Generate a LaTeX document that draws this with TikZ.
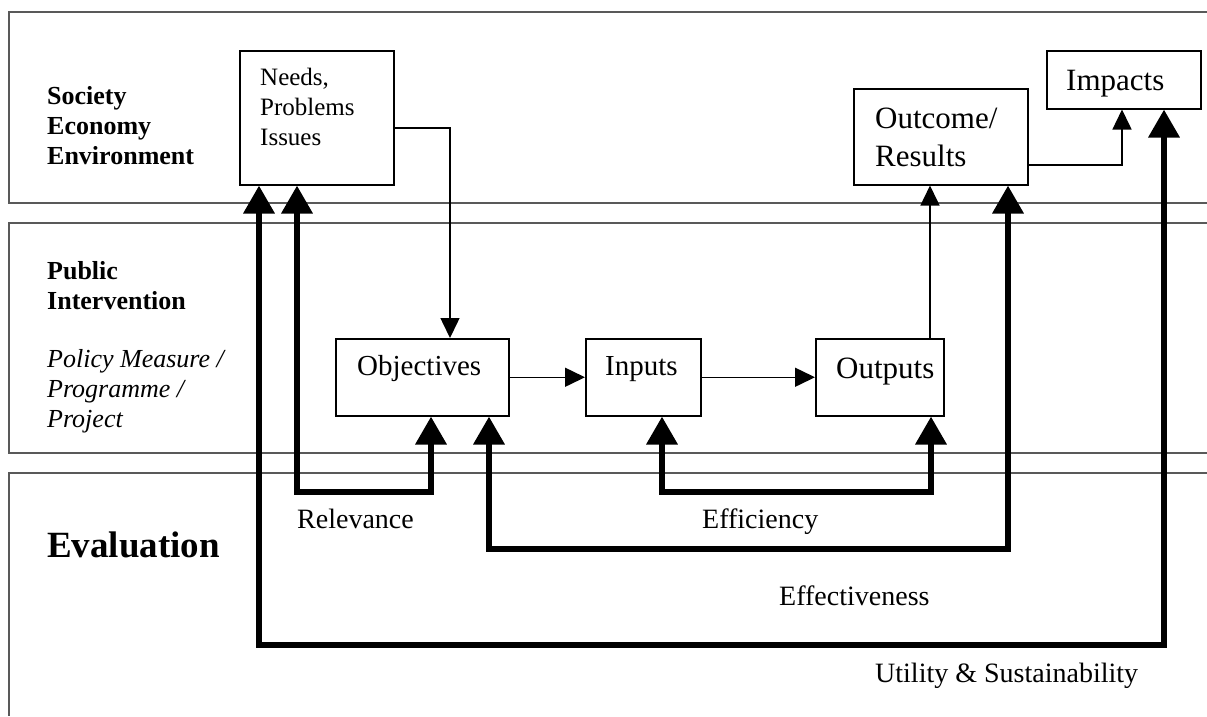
\documentclass[tikz,border=0pt]{standalone}
\usepackage{fontspec}
\setmainfont{Liberation Serif}
\usetikzlibrary{arrows.meta}
\tikzset{
  band/.style={draw=black!65, line width=1.3pt},
  box/.style={draw, line width=1.5pt, inner sep=0pt, anchor=north west},
  txt/.style={inner sep=0pt, anchor=base west, align=left},
  sidebold/.style={txt, font=\fontsize{26pt}{30pt}\selectfont\bfseries},
  sideital/.style={txt, font=\fontsize{26pt}{30pt}\selectfont\itshape},
  needsfont/.style={txt, font=\fontsize{25pt}{30pt}\selectfont},
  midfont/.style={txt, font=\fontsize{29pt}{34pt}\selectfont},
  bigfont/.style={txt, font=\fontsize{31pt}{38pt}\selectfont},
  evalfont/.style={txt, font=\fontsize{28pt}{32pt}\selectfont},
  thinarrow/.style={line width=1.5pt, -{Triangle[length=20pt,width=19pt]}},
  thickarrow/.style={line width=6.5pt, line join=miter,
    {Triangle[length=28pt,width=30pt]}-{Triangle[length=28pt,width=30pt]}}
}
\begin{document}
\begin{tikzpicture}[x=1pt,y=-1pt]
\useasboundingbox (0,0) rectangle (1207,716);
% bands
\draw[band] (1207,12) -- (9,12) -- (9,203) -- (1207,203);
\draw[band] (1207,223) -- (9,223) -- (9,453) -- (1207,453);
\draw[band] (1207,473) -- (9,473) -- (9,716);
% side labels (anchor = baseline of last line)
\node[sidebold] (society) at (47,164) {Society\\Economy\\Environment};
\node[sidebold] (public) at (47,309) {Public\\Intervention};
\node[sideital] (policy) at (47,427) {Policy Measure /\\Programme /\\Project};
\node[txt, font=\fontsize{37pt}{42pt}\selectfont\bfseries] (evaluation) at (47,557) {Evaluation};
% boxes
\node[box, minimum width=154pt, minimum height=134pt] (needs) at (239,50) {};
\node[box, minimum width=174pt, minimum height=96pt] (outcome) at (853,88) {};
\node[box, minimum width=154pt, minimum height=58pt] (impacts) at (1046,50) {};
\node[box, minimum width=173pt, minimum height=77pt] (objectives) at (335,338) {};
\node[box, minimum width=115pt, minimum height=77pt] (inputs) at (585,338) {};
\node[box, minimum width=128pt, minimum height=77pt] (outputs) at (815,338) {};
% box texts
\node[needsfont] (needstxt) at (260,145) {Needs,\\Problems\\Issues};
\node[bigfont] (outcometxt) at (875,166) {Outcome/\\Results};
\node[bigfont] (impactstxt) at (1066,90) {Impacts};
\node[midfont] (objectivestxt) at (357,375) {Objectives};
\node[midfont] (inputstxt) at (605,375) {Inputs};
\node[bigfont] (outputstxt) at (836,378) {Outputs};
% evaluation labels
\node[evalfont] (relevance) at (297,528) {Relevance};
\node[evalfont] (efficiency) at (702,528) {Efficiency};
\node[evalfont] (effectiveness) at (779,605) {Effectiveness};
\node[evalfont] (utility) at (875,682) {Utility \& Sustainability};
% thin connectors
\coordinate (cNO) at (450,128);
\draw[thinarrow] (needs.east |- cNO) -- (cNO) -- (cNO |- objectives.north);
\draw[thinarrow] (objectives.east) -- (inputs.west);
\draw[thinarrow] (inputs.east) -- (outputs.west);
\coordinate (xOut) at (930,0);
\draw[thinarrow] (xOut |- outputs.north) -- (xOut |- outcome.south);
\coordinate (cOI) at (1122,165);
\draw[thinarrow] (outcome.east |- cOI) -- (cOI) -- (cOI |- impacts.south);
% thick evaluation connectors
\coordinate (uL) at (259,645);
\coordinate (uR) at (1164,645);
\draw[thickarrow] (uL |- needs.south) -- (uL) -- (uR) -- (uR |- impacts.south);
\coordinate (rL) at (297,492);
\coordinate (rR) at (431,492);
\draw[thickarrow] (rL |- needs.south) -- (rL) -- (rR) -- (rR |- objectives.south);
\coordinate (eL) at (489,549);
\coordinate (eR) at (1008,549);
\draw[thickarrow] (eL |- objectives.south) -- (eL) -- (eR) -- (eR |- outcome.south);
\coordinate (fL) at (662,492);
\coordinate (fR) at (931,492);
\draw[thickarrow] (fL |- inputs.south) -- (fL) -- (fR) -- (fR |- outputs.south);
\end{tikzpicture}
\end{document}
